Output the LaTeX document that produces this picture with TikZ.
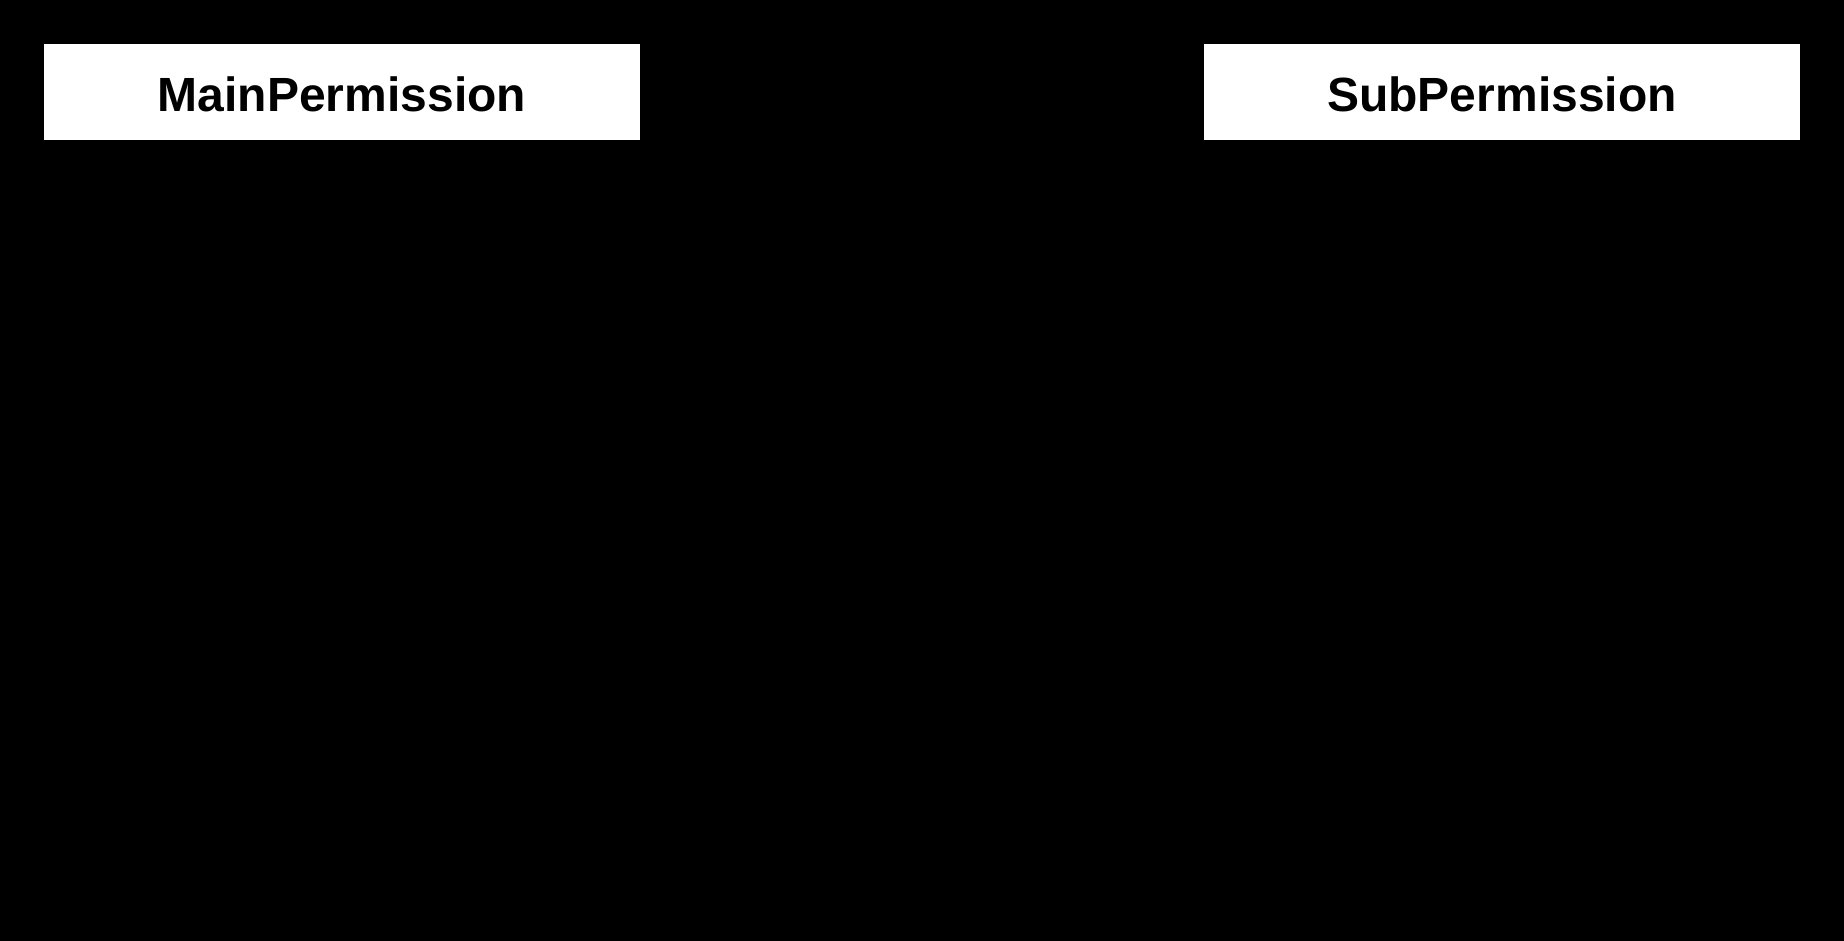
\documentclass[tikz,border=0pt]{standalone}
\usepackage{fontspec}
\setmainfont{Liberation Sans}
\usetikzlibrary{positioning}
\tikzset{
	classbox/.style={fill=white, draw=none, inner sep=0pt, minimum width=596pt, minimum height=96pt, font=\fontsize{48}{56}\selectfont\bfseries}
}

\begin{document}
\begin{tikzpicture}[x=1pt, y=1pt]
			%%%%% START %%%%%
			
			\useasboundingbox (0, 0) rectangle (1844, 940);
			\fill[black] (-6, -6) rectangle (1850, 946);
			
			\node[classbox] (mainperm) at (342, 848) {};
			\node[classbox] (subperm) at (1502, 848) {};
			\node[font=\fontsize{48}{56}\selectfont\bfseries, inner sep=0pt] at ([yshift=-2pt]mainperm.center) {MainPermission};
			\node[font=\fontsize{48}{56}\selectfont\bfseries, inner sep=0pt] at ([yshift=-2pt]subperm.center) {SubPermission};
			
			%%%%% END %%%%%
		\end{tikzpicture}
\end{document}
